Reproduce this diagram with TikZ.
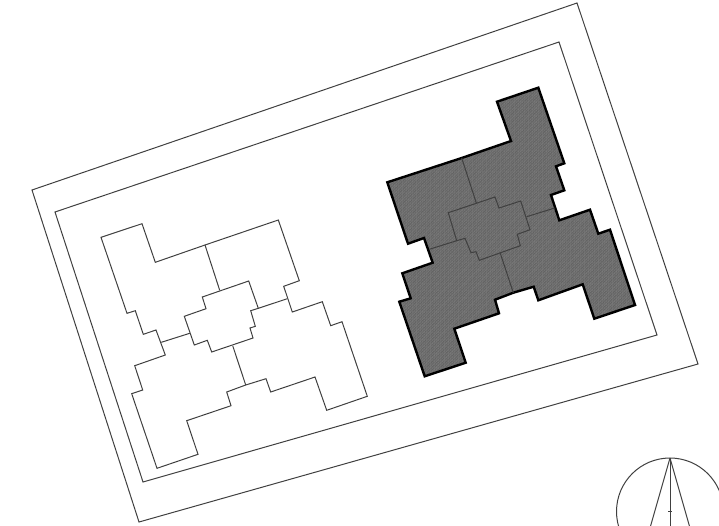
\documentclass[tikz,border=0pt]{standalone}
\usepackage{tikz}
\usetikzlibrary{patterns.meta}
\tikzset{thinline/.style={draw=black!75,line width=1pt,line join=miter},
  heavyline/.style={draw=black,line width=2.4pt,line join=miter},
  hatched/.style={preaction={fill=black!48},pattern={Lines[angle=45,distance=1.1pt,line width=0.65pt]},pattern color=black!62}}

\begin{document}
\begin{tikzpicture}[x=1pt,y=-1pt]
  \clip (0,0) rectangle (719,525);
  \draw[thinline] (32,190) -- (577,3) -- (698,364) -- (139,522) -- cycle;  % plot
  \draw[thinline] (55,212) -- (559,42) -- (657,335) -- (143,482) -- cycle; % setback
  % left block
  \draw[thinline] (101,237.3) -- (142,223.7) -- (155.3,262.3) -- (205,245) -- (278.3,220) -- (299.3,280.7)
    -- (283.7,286.3) -- (292.3,312) -- (322.3,301.7) -- (330.7,325.7) -- (342,321.7) -- (367.3,396.3)
    -- (326.7,410.3) -- (315,377) -- (270.7,392) -- (266,378.7) -- (245.7,385) -- (226.7,392) -- (231,405.7)
    -- (186.7,420.7) -- (198,454.3) -- (157,468.3) -- (131.7,393.7) -- (142.7,390) -- (134.7,365.7)
    -- (165.3,355) -- (156,330) -- (143.3,334.3) -- (135.3,310.7) -- (127,313.3) -- cycle;
  \draw[thinline] (202.3,297) -- (248.7,281) -- (258.3,308.3) -- (250.7,310.7) -- (255.3,326.3) -- (250,328)
    -- (253,338) -- (211.7,352) -- (207.3,340.3) -- (194.3,345) -- (184.3,316.3) -- (206,308.7) -- cycle;
  \draw[thinline] (205,245) -- (219.7,290.3);
  \draw[thinline] (258.3,308.3) -- (287.3,298.7);
  \draw[thinline] (189.7,333.3) -- (161.3,342.3);
  \draw[thinline] (232.7,345.7) -- (245.7,385);
  % right block
  \draw[heavyline,hatched] (497,101.7) -- (538.3,87.7) -- (564.3,163.3) -- (556,166.3) -- (564.3,190.3) -- (551,195)
    -- (559.3,220.3) -- (590,209.7) -- (598.3,233.7) -- (610,229.7) -- (635,305) -- (594.3,318.7)
    -- (582.7,284.3) -- (538.3,300.3) -- (533.7,286.7) -- (513.3,292.7) -- (495,299.7) -- (499,313.3)
    -- (454.3,328.7) -- (465.7,362.7) -- (424.7,376.3) -- (399.3,301.7) -- (410.7,298.3) -- (402.3,273.3)
    -- (432.7,262.7) -- (424,238) -- (408,243.7) -- (387.3,182.3) -- (461.7,158) -- (511,141) -- cycle;
  \draw[thinline] (448.3,212.7) -- (495,197) -- (499,208) -- (520.7,201) -- (530,229.7) -- (517.3,234.3)
    -- (520.3,245.7) -- (479.3,260.3) -- (476,251.7) -- (471,252.7) -- (465,238.3) -- (456.7,240.7) -- cycle;
  \draw[thinline] (461.7,158) -- (476.3,203);
  \draw[thinline] (526.7,216.7) -- (554.7,208);
  \draw[thinline] (456.7,240.7) -- (429.3,249.3);
  \draw[thinline] (500.3,253.3) -- (513.3,292.7);
  % north arrow
  \draw[thinline] (670,511.5) circle (53.5);
  \draw[thinline] (670,458) -- (650,528);
  \draw[thinline] (670,458) -- (690,528);
  \draw[thinline] (670,458) -- (670,528);
  \draw[thinline] (668,511) -- (672,511);
\end{tikzpicture}
\end{document}
